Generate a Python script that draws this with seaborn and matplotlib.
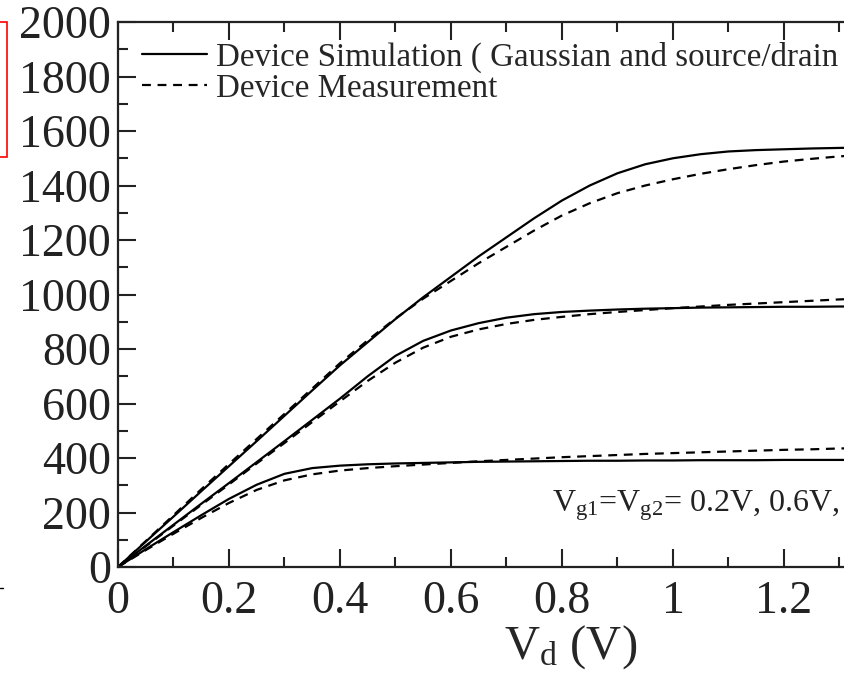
import matplotlib
matplotlib.use("Agg")
import matplotlib.pyplot as plt
import seaborn as sns
import pandas as pd
from matplotlib.lines import Line2D
from matplotlib.patches import Rectangle
from matplotlib.ticker import MultipleLocator, FuncFormatter

# drain voltage (V)
vd = [0, 0.05, 0.1, 0.15, 0.2, 0.25, 0.3, 0.35, 0.4, 0.45, 0.5, 0.55, 0.6, 0.65,
      0.7, 0.75, 0.8, 0.85, 0.9, 0.95, 1.0, 1.05, 1.1, 1.15, 1.2, 1.25, 1.3, 1.35]

# Vg = 0.2 V
sim_02 = [0, 65, 128, 190, 250, 302, 342, 363, 372, 377, 380, 382, 384, 386,
          387, 388, 389, 390, 390, 391, 391, 392, 392, 392, 393, 393, 393, 393]
meas_02 = [0, 62, 122, 180, 235, 283, 318, 340, 354, 363, 370, 376, 382, 388,
           393, 398, 403, 407, 411, 415, 418, 421, 424, 427, 430, 432, 435, 437]

# Vg = 0.6 V
sim_06 = [0, 78, 155, 232, 308, 385, 462, 540, 618, 700, 775, 830, 868, 895,
          915, 928, 936, 941, 945, 948, 950, 952, 953, 954, 955, 955, 956, 956]
meas_06 = [0, 76, 152, 228, 303, 380, 455, 532, 608, 683, 750, 805, 845, 872,
           892, 907, 918, 928, 936, 943, 950, 956, 962, 967, 972, 977, 982, 986]

# Vg = 1.0 V
sim_10 = [0, 93, 185, 278, 370, 462, 555, 648, 740, 825, 910, 990, 1065, 1140,
          1210, 1280, 1345, 1400, 1445, 1478, 1500, 1515, 1525, 1530, 1533, 1536, 1538, 1540]
meas_10 = [0, 95, 190, 285, 378, 470, 562, 655, 748, 832, 912, 985, 1050, 1115,
           1175, 1235, 1290, 1335, 1372, 1400, 1423, 1443, 1460, 1475, 1488, 1498, 1507, 1513]

curves = {
    ("0.2", "sim"): sim_02, ("0.2", "meas"): meas_02,
    ("0.6", "sim"): sim_06, ("0.6", "meas"): meas_06,
    ("1.0", "sim"): sim_10, ("1.0", "meas"): meas_10,
}
frames = []
for (vg, kind), ids in curves.items():
    frames.append(pd.DataFrame({"vd": vd, "id": ids, "vg": vg + kind, "kind": kind}))
df = pd.concat(frames, ignore_index=True)

sns.set_style("ticks")
plt.rcParams["font.family"] = ["Liberation Serif", "DejaVu Serif"]
plt.rcParams["mathtext.fontset"] = "custom"
plt.rcParams["mathtext.rm"] = "Liberation Serif"
plt.rcParams["mathtext.it"] = "Liberation Serif:italic"

fig = plt.figure(figsize=(8.45, 6.82), dpi=100)
ax = fig.add_axes([0.1396, 0.1686, 0.9195, 0.7991])

sns.lineplot(data=df, x="vd", y="id", units="vg", style="kind", estimator=None,
             color="black", dashes={"sim": "", "meas": (4, 3)}, lw=1.6,
             sort=False, legend=False, ax=ax)

ax.set_xlim(0, 1.4)
ax.set_ylim(0, 2000)
ax.xaxis.set_major_locator(MultipleLocator(0.2))
ax.xaxis.set_minor_locator(MultipleLocator(0.1))
ax.yaxis.set_major_locator(MultipleLocator(200))
ax.yaxis.set_minor_locator(MultipleLocator(100))
ax.xaxis.set_major_formatter(FuncFormatter(lambda v, p: "%g" % round(v, 2)))
ax.tick_params(which="both", direction="in", top=True, right=False,
               labelsize=33, width=1.5, colors="#222222")
ax.tick_params(which="major", length=13)
ax.tick_params(which="minor", length=7)
ax.tick_params(axis="y", pad=5)
ax.tick_params(axis="x", pad=10)
for s in ax.spines.values():
    s.set_linewidth(1.6)
    s.set_color("#222222")
ax.spines["right"].set_visible(False)

ax.set_xlabel(r"V$_{\rm d}$ (V)", fontsize=35)
ax.xaxis.set_label_coords(0.582, -0.104)
ax.set_ylabel("")

handles = [Line2D([], [], color="black", lw=1.6),
           Line2D([], [], color="black", lw=1.6, dashes=(4, 3))]
labels = ["Device Simulation ( Gaussian and source/drain doping)",
          "Device Measurement"]
ax.legend(handles, labels, loc="upper left", bbox_to_anchor=(0.031, 0.964),
          frameon=False, fontsize=23.8, handlelength=1.95, handletextpad=0.3,
          labelspacing=0.02, borderaxespad=0, borderpad=0)

ax.text(0.782, 202, r"V$_{\rm g1}$=V$_{\rm g2}$= 0.2V, 0.6V, 1.0V",
        fontsize=23, va="baseline", color="#222222")

# red box and stray mark at the left edge of the crop
fig.patches.append(Rectangle((-0.01, 1 - 157 / 682), 0.0183, 135 / 682,
                             transform=fig.transFigure, fill=False,
                             edgecolor="red", lw=1.2))
fig.add_artist(Line2D([0, 0.003], [1 - 588 / 682] * 2, color="black", lw=1))

fig.savefig("out.png", dpi=100)
